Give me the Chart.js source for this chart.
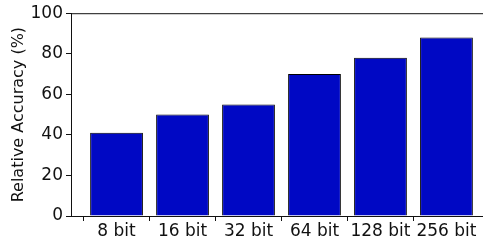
<!DOCTYPE html>
<html>
<head>
<meta charset="utf-8">
<script src="https://cdn.jsdelivr.net/npm/chart.js@4"></script>
<style>
  html, body { margin: 0; padding: 0; background: #fff; overflow: hidden; }
  #wrap { width: 483px; height: 240px; overflow: hidden; }
  #wrap canvas { display: block; }
</style>
</head>
<body>
<div id="wrap"><canvas id="chart" width="500" height="240" style="width:500px;height:240px"></canvas></div>
<script>
/* ── Datos ─────────────────────────────────────────────── */
const bitLabels = ['8 bit', '16 bit', '32 bit', '64 bit', '128 bit', '256 bit'];
const accuracy  = [41, 50, 55, 70, 78, 88];
const yTicks    = [0, 20, 40, 60, 80, 100];

const FONT = "'DejaVu Sans', sans-serif";
const INK  = '#111';

/* marco superior / derecho como en matplotlib */
const frame = {
  id: 'frame',
  afterDatasetsDraw(chart) {
    const { ctx, chartArea: a } = chart;
    ctx.save();
    ctx.strokeStyle = INK;
    ctx.lineWidth = 1;
    ctx.strokeRect(a.left + 0.5, a.top + 0.5, a.right - a.left, a.bottom - a.top);
    ctx.restore();
  },
};

new Chart(document.getElementById('chart'), {
  type: 'bar',
  data: {
    datasets: [{
      data: accuracy.map((v, i) => ({ x: i, y: v })),
      backgroundColor: '#0008C4',
      borderColor: '#000',
      borderWidth: 1,
      barPercentage: 0.8,
      categoryPercentage: 1,
    }],
  },
  options: {
    responsive: false, animation: false,
    layout: { padding: { top: 12, right: 8, left: 0, bottom: 0 } },
    plugins: { legend: { display: false }, tooltip: { enabled: false } },
    scales: {
      x: {
        type: 'linear', min: -0.69, max: 5.69, offset: false,
        afterBuildTicks: s => { s.ticks = bitLabels.map((_, i) => ({ value: i })); },
        afterFit: s => { s.height = 24; },
        ticks: { callback: v => bitLabels[v], color: INK, font: { family: FONT, size: 17 }, padding: 0, maxRotation: 0, autoSkip: false },
        grid: {
          drawOnChartArea: false, drawTicks: true, tickLength: 5,
          color: c => (c.tick && Number.isInteger(c.tick.value)) ? INK : 'rgba(0,0,0,0)',
        },
        border: { display: true, color: INK },
      },
      y: {
        min: 0, max: 100,
        afterBuildTicks: s => { s.ticks = yTicks.map(v => ({ value: v })); },
        afterFit: s => { s.width = 71; },
        ticks: { color: INK, font: { family: FONT, size: 17 }, padding: 3 },
        grid: { drawOnChartArea: false, drawTicks: true, tickLength: 5, color: INK },
        border: { display: true, color: INK },
        title: { display: true, text: 'Relative Accuracy (%)', color: INK, font: { family: FONT, size: 16 }, padding: { top: 9, bottom: 0 } },
      },
    },
  },
  plugins: [frame],
});
</script>
</body>
</html>
